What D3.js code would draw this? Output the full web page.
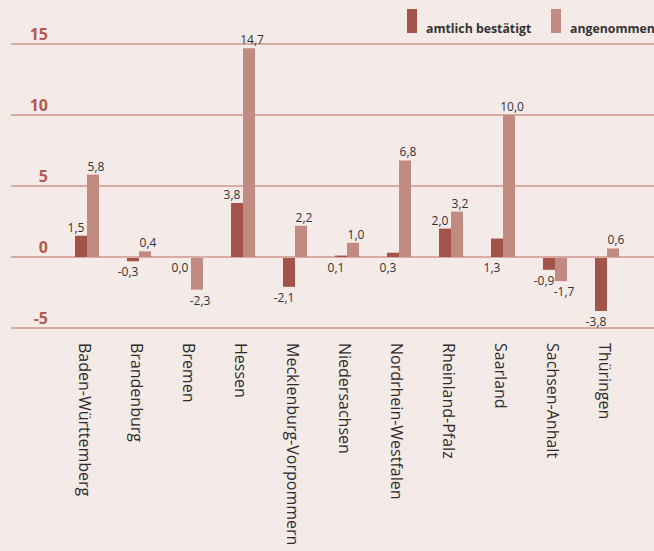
<!DOCTYPE html>
<html>
<head>
<meta charset="utf-8">
<script src="https://cdn.jsdelivr.net/npm/d3@7"></script>
<style>
  body { margin: 0; background: #f4eae8; }
  svg { display: block; font-family: "Open Sans", sans-serif; }
</style>
</head>
<body>
<script>
// data
var states = ["Baden-Württemberg", "Brandenburg", "Bremen", "Hessen",
              "Mecklenburg-Vorpommern", "Niedersachsen", "Nordrhein-Westfalen",
              "Rheinland-Pfalz", "Saarland", "Sachsen-Anhalt", "Thüringen"];
var confirmed = [1.5, -0.3, 0.0, 3.8, -2.1, 0.1, 0.3, 2.0, 1.3, -0.9, -3.8];
var assumed   = [5.8, 0.4, -2.3, 14.7, 2.2, 1.0, 6.8, 3.2, 10.0, -1.7, 0.6];
var seriesNames = ["amtlich bestätigt", "angenommen"];
var yTicks = [-5, 0, 5, 10, 15];

var W = 654, H = 551;
var colors = ["#a2544b", "#c28b81"];

var svg = d3.select("body").append("svg")
    .attr("width", W)
    .attr("height", H);

svg.append("rect").attr("width", W).attr("height", H).attr("fill", "#f4eae8");

// scales
var x = d3.scaleBand().domain(states).range([61, 633]).padding(0);
var xSub = d3.scaleBand().domain([0, 1]).range([-12, 12]);
var y = d3.scaleLinear().domain([-5, 15]).range([328, 44]);

// german decimal comma, plain hyphen for minus
var fmt = function(v) { return v.toFixed(1).replace(".", ","); };

// grid lines + tick labels
var grid = svg.append("g");
grid.selectAll("line")
    .data(yTicks)
  .enter().append("line")
    .attr("x1", 11)
    .attr("x2", W)
    .attr("y1", function(d) { return y(d); })
    .attr("y2", function(d) { return y(d); })
    .attr("stroke", "#d9aca3")
    .attr("stroke-width", 2);

grid.selectAll("text")
    .data(yTicks)
  .enter().append("text")
    .attr("x", 48)
    .attr("y", function(d) { return y(d) - 4; })
    .attr("text-anchor", "end")
    .attr("font-size", 16)
    .attr("font-weight", "bold")
    .attr("fill", "#b35a4e")
    .text(function(d) { return d; });

// bars
var rows = states.map(function(s, i) {
  return { state: s, values: [confirmed[i], assumed[i]] };
});

var groups = svg.selectAll(".group")
    .data(rows)
  .enter().append("g")
    .attr("class", "group")
    .attr("transform", function(d) { return "translate(" + (x(d.state) + x.bandwidth() / 2) + ",0)"; });

groups.selectAll("rect")
    .data(function(d) { return d.values; })
  .enter().append("rect")
    .attr("x", function(d, i) { return xSub(i); })
    .attr("width", xSub.bandwidth())
    .attr("y", function(d) { return d >= 0 ? y(d) : y(0) + 1; })
    .attr("height", function(d) { return d >= 0 ? y(0) - y(d) : y(d) - y(0) - 1; })
    .attr("fill", function(d, i) { return colors[i]; });

// value labels
groups.selectAll("text.val")
    .data(function(d) { return d.values; })
  .enter().append("text")
    .attr("class", "val")
    .attr("x", function(d, i) { return xSub(i) + xSub.bandwidth() / 2 + (i == 0 ? -5 : 3); })
    .attr("y", function(d, i) {
      // small official values are labelled under the axis
      var below = d <= 0 || (i == 0 && d < 1.4);
      return below ? y(Math.min(d, 0)) + 15 : y(d) - 4;
    })
    .attr("text-anchor", "middle")
    .attr("font-size", 12)
    .attr("fill", "#333")
    .text(function(d) { return fmt(d); });

// category labels
svg.selectAll(".xlabel")
    .data(states)
  .enter().append("text")
    .attr("class", "xlabel")
    .attr("transform", function(d) { return "translate(" + (x(d) + x.bandwidth() / 2 - 2) + ",343) rotate(90)"; })
    .attr("dy", "0.35em")
    .attr("font-size", 16)
    .attr("fill", "#2b2b2b")
    .text(function(d) { return d; });

// legend
var legend = svg.selectAll(".legend")
    .data(seriesNames)
  .enter().append("g")
    .attr("class", "legend")
    .attr("transform", function(d, i) { return "translate(" + (i == 0 ? 407 : 551) + ",9)"; });

legend.append("rect")
    .attr("width", 10)
    .attr("height", 24)
    .attr("fill", function(d, i) { return colors[i]; });

legend.append("text")
    .attr("x", 19)
    .attr("y", 24)
    .attr("font-size", 12.3)
    .attr("font-weight", "bold")
    .attr("fill", "#333")
    .text(function(d) { return d; });
</script>
</body>
</html>
